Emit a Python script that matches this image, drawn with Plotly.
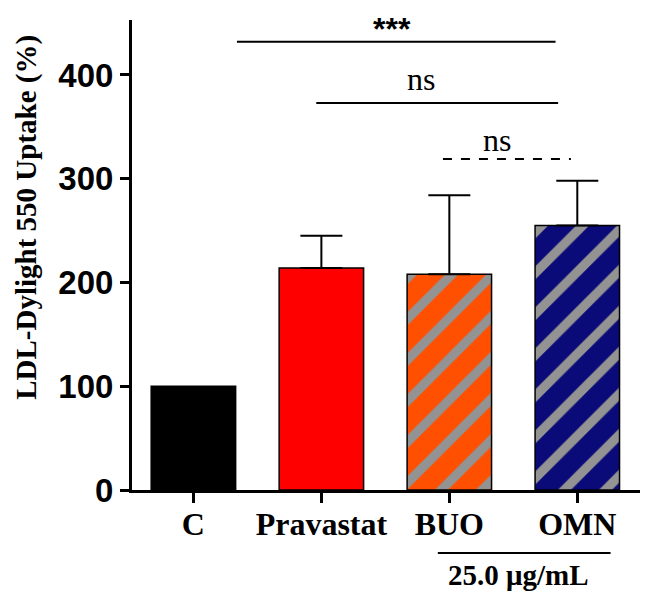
import plotly.graph_objects as go

categories = ["C", "Pravastat", "BUO", "OMN"]
means = [100, 214, 208, 255]
err_plus = [0, 31, 76, 43]
bar_colors = ["#000000", "#ff0000", "#ff4f00", "#0a0a78"]
pattern_shapes = ["", "", "/", "/"]
stripe_color = "#939393"
y_ticks = [0, 100, 200, 300, 400]

# significance comparisons: (x_start, x_end, y, label, dashed)
comparisons = [
    (0.34, 2.83, 432, "***", False),
    (0.96, 2.85, 373, "ns", False),
    (1.95, 2.95, 319, "ns", True),
]
label_y = [444, 396, 337]
label_x = [1.55, 1.78, 2.37]

xpos = list(range(len(categories)))

fig = go.Figure()
for i, cat in enumerate(categories):
    marker = dict(color=bar_colors[i], line=dict(color="#000000", width=1.5))
    if pattern_shapes[i]:
        marker["pattern"] = dict(shape=pattern_shapes[i], fgcolor=stripe_color,
                                 bgcolor=bar_colors[i], fgopacity=1, size=29,
                                 solidity=0.32, fillmode="overlay")
    err = dict(type="data", array=[err_plus[i]], arrayminus=[0], symmetric=False,
               color="#000000", thickness=2, width=21, visible=err_plus[i] > 0)
    fig.add_trace(go.Bar(x=[xpos[i]], y=[means[i]], width=0.66, name=cat,
                         marker=marker, error_y=err, showlegend=False))

for (x0, x1, y, lab, dashed), lx, ly in zip(comparisons, label_x, label_y):
    fig.add_shape(type="line", x0=x0, x1=x1, y0=y, y1=y, xref="x", yref="y",
                  line=dict(color="#000000", width=2, dash="dash" if dashed else "solid"))
    if lab == "***":
        fnt = dict(family="Liberation Sans", size=32, color="#000000")
        txt = "<b>***</b>"
    else:
        fnt = dict(family="Liberation Serif", size=32, color="#000000")
        txt = lab
    fig.add_annotation(x=lx, y=ly, xref="x", yref="y", text=txt, showarrow=False,
                       font=fnt, xanchor="center", yanchor="middle")

# concentration bracket below BUO/OMN
fig.add_shape(type="line", x0=1.91, x1=3.26, y0=-0.134, y1=-0.134, xref="x", yref="paper",
              line=dict(color="#000000", width=2))
fig.add_annotation(x=2.54, y=-0.181, xref="x", yref="paper", text="<b>25.0 μg/mL</b>",
                   showarrow=False, xanchor="center", yanchor="middle",
                   font=dict(family="Liberation Serif", size=29, color="#000000"))

# y-axis title
fig.add_annotation(x=-0.207, y=0.581, xref="paper", yref="paper",
                   text="<b>LDL-Dylight 550 Uptake (%)</b>", textangle=-90, showarrow=False,
                   xanchor="center", yanchor="middle",
                   font=dict(family="Liberation Serif", size=29, color="#000000"))

fig.update_layout(
    width=651, height=607,
    margin=dict(l=124, r=19, t=12, b=125, autoexpand=False),
    paper_bgcolor="white", plot_bgcolor="white",
    barmode="overlay",
    xaxis=dict(
        range=[-0.48, 3.49], tickmode="array", tickvals=xpos,
        ticktext=["<b>%s</b>" % c for c in categories],
        showline=True, linecolor="#000000", linewidth=3,
        ticks="outside", ticklen=10, tickwidth=3, tickcolor="#000000",
        ticklabelstandoff=-6,
        tickfont=dict(family="Liberation Serif", size=32, color="#000000"),
        showgrid=False, zeroline=False, automargin=False,
    ),
    yaxis=dict(
        range=[0, 453], tickmode="array", tickvals=y_ticks,
        ticktext=["<b>%d</b>" % v for v in y_ticks],
        showline=True, linecolor="#000000", linewidth=3,
        ticks="outside", ticklen=9, tickwidth=3, tickcolor="#000000",
        tickfont=dict(family="Liberation Sans", size=33, color="#000000"),
        showgrid=False, zeroline=False, automargin=False,
    ),
)

fig.write_html("out.html")
